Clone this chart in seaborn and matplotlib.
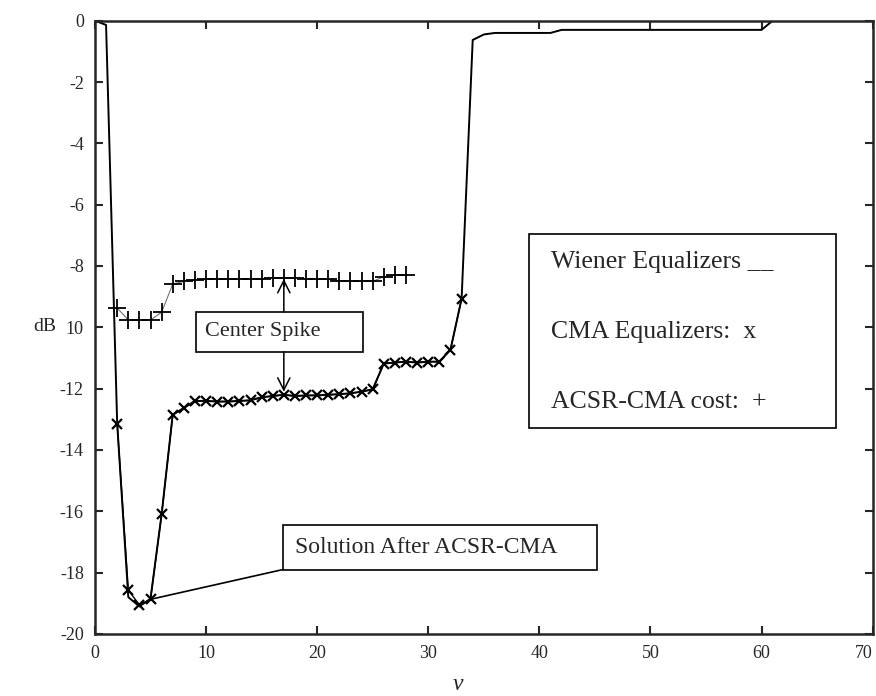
import matplotlib
matplotlib.use('Agg')
import matplotlib.pyplot as plt
from matplotlib.patches import Rectangle
import numpy as np
import pandas as pd
import seaborn as sns

# -----------------------------------------------------------------------
# Data (delay v -> dB)
wiener_v = list(range(0, 71))
wiener_db = [0.0, -0.14, -13.14, -18.8, -19.1, -18.85, -16.1, -12.85, -12.63, -12.4,
             -12.4, -12.42, -12.42, -12.4, -12.38, -12.28, -12.24, -12.2, -12.24, -12.22,
             -12.22, -12.2, -12.18, -12.15, -12.1, -12.02, -11.18, -11.15, -11.12, -11.15,
             -11.12, -11.12, -10.73, -9.07, -0.63, -0.45, -0.4, -0.4, -0.4, -0.4,
             -0.4, -0.4, -0.3, -0.3, -0.3, -0.3, -0.3, -0.3, -0.3, -0.3,
             -0.3, -0.3, -0.3, -0.3, -0.3, -0.3, -0.3, -0.3, -0.3, -0.3,
             -0.3, 0.0, 0.0, 0.0, 0.0, 0.0, 0.0, 0.0, 0.0, 0.0, 0.0]

cma_v = list(range(2, 34))
cma_db = [-13.14, -18.57, -19.05, -18.87, -16.1, -12.85, -12.63, -12.4, -12.4, -12.42,
          -12.42, -12.4, -12.38, -12.28, -12.24, -12.2, -12.24, -12.22, -12.22, -12.2,
          -12.18, -12.15, -12.1, -12.02, -11.18, -11.15, -11.12, -11.15, -11.12, -11.12,
          -10.73, -9.07]

acsr_v = list(range(2, 29))
acsr_db = [-9.37, -9.76, -9.76, -9.76, -9.51, -8.59, -8.5, -8.45, -8.42, -8.42,
           -8.42, -8.42, -8.42, -8.42, -8.38, -8.38, -8.38, -8.42, -8.42, -8.42,
           -8.5, -8.5, -8.5, -8.5, -8.35, -8.3, -8.3]

x_ticks = [0, 10, 20, 30, 40, 50, 60, 70]
y_ticks = [0, -2, -4, -6, -8, -10, -12, -14, -16, -18, -20]
y_tick_labels = ['0', '-2', '-4', '-6', '-8', '10', '-12', '-14', '-16', '-18', '-20']

legend_lines = ['Wiener Equalizers __', 'CMA Equalizers:  x', 'ACSR-CMA cost:  +']

# -----------------------------------------------------------------------
sns.set_style('ticks')
plt.rcParams['font.family'] = ['Liberation Serif', 'DejaVu Serif']

wiener = pd.DataFrame({'v': wiener_v, 'dB': wiener_db})
cma = pd.DataFrame({'v': cma_v, 'dB': cma_db})
acsr = pd.DataFrame({'v': acsr_v, 'dB': acsr_db})

fig = plt.figure(figsize=(8.76, 6.96), dpi=100)
ax = fig.add_axes([0.1084, 0.0891, 0.8878, 0.8812])

sns.lineplot(data=acsr, x='v', y='dB', estimator=None, color='0.45', lw=0.8,
             marker='+', markersize=13, markeredgewidth=1.3, markeredgecolor='black',
             ax=ax)
sns.lineplot(data=wiener, x='v', y='dB', estimator=None, color='black', lw=1.4, ax=ax)
sns.lineplot(data=cma, x='v', y='dB', estimator=None, color='black', lw=1.0,
             marker='x', markersize=7, markeredgewidth=1.6, markeredgecolor='black',
             ax=ax)

ax.set_xlim(0, 70)
ax.set_ylim(-20, 0)
ax.set_xticks(x_ticks)
ax.set_xticklabels([str(t) for t in x_ticks])
ax.set_yticks(y_ticks)
ax.set_yticklabels(y_tick_labels)
ax.tick_params(direction='in', top=True, right=True, length=6, width=1.5,
               labelsize=13, pad=8)
# last x label sits inside the frame, as in the scan
ax.get_xticklabels()[-1].set_horizontalalignment('right')
for sp in ax.spines.values():
    sp.set_linewidth(1.8)
    sp.set_visible(True)

ax.set_xlabel('ν', fontsize=17, style='italic')
ax.xaxis.set_label_coords(0.467, -0.066)
ax.set_ylabel('dB', fontsize=14, rotation=0, va='center', ha='center')
ax.yaxis.set_label_coords(-0.064, 0.502)

# Legend drawn as a box with text, like the original
ax.add_patch(Rectangle((0.558, 0.336), 0.395, 0.316, transform=ax.transAxes,
                       fill=False, ec='black', lw=1.2))
for txt, yy in zip(legend_lines, [0.607, 0.492, 0.378]):
    ax.text(0.587, yy, txt, transform=ax.transAxes, fontsize=18.5, va='center')

# Center Spike box and arrows
ax.add_patch(Rectangle((9.1, -10.8), 15.0, 1.3, fill=False, ec='black', lw=1.2))
ax.text(9.9, -10.15, 'Center Spike', fontsize=16, va='center')
ax.annotate('', xy=(17.0, -8.42), xytext=(17.0, -9.5),
            arrowprops=dict(arrowstyle='->', lw=1.1, color='black', shrinkA=0, shrinkB=0,
                            mutation_scale=22))
ax.annotate('', xy=(17.0, -12.1), xytext=(17.0, -10.8),
            arrowprops=dict(arrowstyle='->', lw=1.1, color='black', shrinkA=0, shrinkB=0,
                            mutation_scale=22))

# Solution After ACSR-CMA box and pointer line (line meets the lower-left corner)
ax.add_patch(Rectangle((16.9, -17.9), 28.3, 1.47, fill=False, ec='black', lw=1.2))
ax.text(18.0, -17.17, 'Solution After ACSR-CMA', fontsize=17, va='center')
ax.plot([5.0, 16.9], [-18.87, -17.9], color='black', lw=1.2)

fig.savefig('out.png', dpi=100)
